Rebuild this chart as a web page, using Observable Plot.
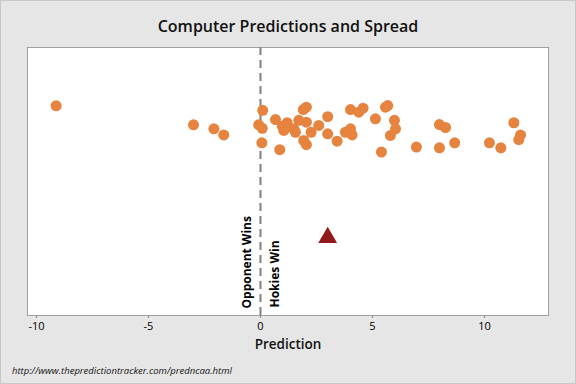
<!DOCTYPE html>
<html>
<head>
<meta charset="utf-8">
<script src="https://cdn.jsdelivr.net/npm/d3@7"></script>
<script src="https://cdn.jsdelivr.net/npm/@observablehq/plot@0.6"></script>
<style>
  html, body { margin: 0; padding: 0; background: #e6e6e6; }
  #wrap { position: relative; width: 576px; height: 384px; background: #e6e6e6; box-shadow: inset 0 0 0 1px #c8c8c8; overflow: hidden; font-family: "Open Sans", "Noto Sans", sans-serif; }
  #title { position: absolute; top: 14px; left: 0; width: 576px; text-align: center; font-size: 16px; font-weight: 600; line-height: 24px; color: #111; }
  #chart { position: absolute; top: 36px; left: 0; }
  #caption { position: absolute; top: 363px; left: 12px; font-size: 9.5px; font-style: italic; line-height: 16px; color: #111; }
</style>
</head>
<body>
<div id="wrap">
  <div id="title">Computer Predictions and Spread</div>
  <div id="chart"></div>
  <div id="caption">http://www.thepredictiontracker.com/predncaa.html</div>
</div>
<script>
// Computer predictions (Hokies margin) and their vertical jitter positions
const predictions = [-9.12, -2.99, -2.08, -1.64, 0.10, -0.08, 0.08, 0.06, 0.86, 0.67,
  0.97, 1.04, 1.19, 1.49, 1.56, 1.71, 2.05, 1.91, 2.05, 1.93,
  2.05, 2.26, 2.60, 3.00, 3.00, 3.42, 3.79, 4.02, 4.09, 4.02,
  4.39, 4.58, 5.13, 5.58, 5.68, 5.98, 6.03, 5.80, 5.40, 6.96,
  7.99, 8.26, 7.99, 8.67, 10.22, 10.73, 11.31, 11.61, 11.53];
const jitter = [7.94, 7.22, 7.07, 6.84, 7.77, 7.22, 7.09, 6.54, 6.28, 7.42,
  7.17, 7.01, 7.30, 7.07, 6.94, 7.39, 7.32, 7.80, 7.89, 6.63,
  6.47, 6.94, 7.20, 7.53, 6.88, 6.60, 6.94, 7.07, 6.84, 7.80,
  7.70, 7.85, 7.45, 7.89, 7.95, 7.39, 7.07, 6.82, 6.19, 6.38,
  7.23, 7.12, 6.35, 6.54, 6.54, 6.35, 7.30, 6.84, 6.66];
const spread = [3];
const spreadLevel = [2.95];
const xTicks = [-10, -5, 0, 5, 10];
const leftLabel = "Opponent Wins";
const rightLabel = "Hokies Win";
const xLabel = "Prediction";

const points = predictions.map((p, i) => ({x: p, y: jitter[i]}));
const spreadData = spread.map((s, i) => ({x: s, y: spreadLevel[i]}));

const chart = Plot.plot({
  width: 576,
  height: 324,
  marginTop: 11,
  marginBottom: 45,
  marginLeft: 27,
  marginRight: 28,
  style: {background: "transparent", color: "#000", fontFamily: "'Open Sans', 'Noto Sans', sans-serif"},
  x: {domain: [-10.4, 12.857]},
  y: {domain: [0, 10.15], axis: null},
  marks: [
    Plot.frame({fill: "white", stroke: "#a0a0a0"}),
    Plot.ruleX([0], {stroke: "#808080", strokeWidth: 2, strokeDasharray: "8,5"}),
    Plot.axisX({ticks: xTicks, tickSize: 3, tickPadding: 4, stroke: "#888", fill: "#000", fontSize: 11, label: null, tickFormat: d => String(d)}),
    Plot.text([xLabel], {frameAnchor: "bottom", dy: 29, lineAnchor: "middle", fontSize: 13.5, fontWeight: 600, fill: "#111"}),
    Plot.text([leftLabel], {x: () => 0, frameAnchor: "bottom", rotate: -90, textAnchor: "start", lineAnchor: "middle", dx: -13, dy: -7, fontSize: 12, fontWeight: "bold", fill: "#000"}),
    Plot.text([rightLabel], {x: () => 0, frameAnchor: "bottom", rotate: -90, textAnchor: "start", lineAnchor: "middle", dx: 15, dy: -8, fontSize: 12, fontWeight: "bold", fill: "#000"}),
    Plot.dot(points, {x: "x", y: "y", r: 5.5, fill: "#e5833f", stroke: "none"}),
    Plot.dot(spreadData, {x: "x", y: "y", symbol: "triangle", r: 7, fill: "#921a1a", stroke: "none"})
  ]
});
document.getElementById("chart").appendChild(chart);
</script>
</body>
</html>
